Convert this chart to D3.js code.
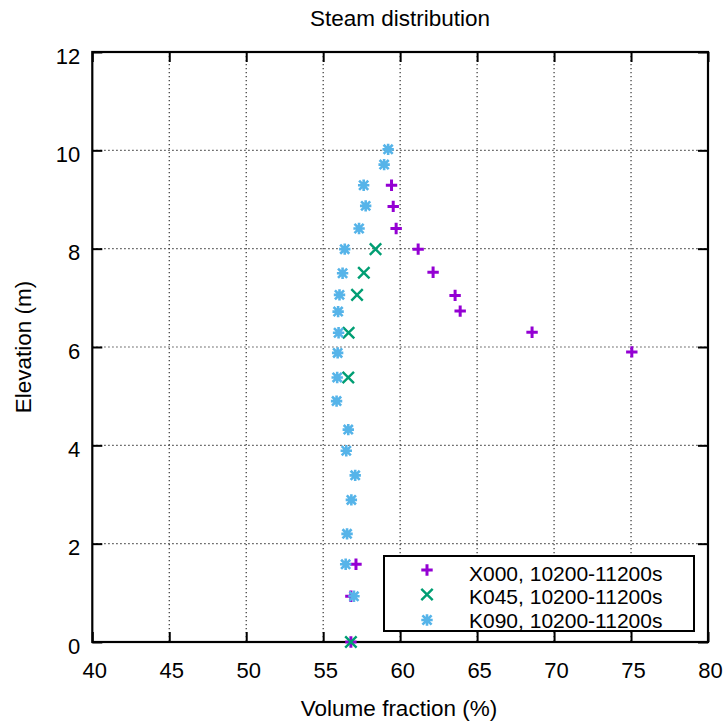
<!DOCTYPE html>
<html>
<head>
<meta charset="utf-8">
<script src="https://cdn.jsdelivr.net/npm/d3@7"></script>
<style>
  body { margin: 0; background: #fff; }
  text { font-family: "Liberation Sans", Arial, sans-serif; fill: #000; }
</style>
</head>
<body>
<svg id="chart" width="725" height="724"></svg>
<script>
// Steam volume fraction (%) against elevation (m) for three runs
const x000Fraction  = [75.05, 68.57, 63.90, 63.57, 62.14, 61.17, 59.74, 59.55, 59.44, 57.13, 56.80, 56.80];
const x000Elevation = [5.90, 6.30, 6.73, 7.05, 7.52, 7.99, 8.41, 8.86, 9.29, 1.58, 0.93, 0.00];

const k045Fraction  = [58.40, 57.64, 57.20, 56.65, 56.63, 56.80];
const k045Elevation = [7.99, 7.51, 7.06, 6.29, 5.38, 0.00];

const k090Fraction  = [59.22, 58.96, 57.63, 57.76, 57.33, 56.40, 56.26, 56.06, 55.97, 56.00, 55.94, 55.91, 55.87,
                       56.63, 56.50, 57.08, 56.83, 56.55, 56.46, 57.00];
const k090Elevation = [10.02, 9.71, 9.29, 8.87, 8.41, 7.99, 7.50, 7.06, 6.72, 6.29, 5.88, 5.38, 4.90,
                       4.32, 3.89, 3.39, 2.89, 2.20, 1.58, 0.93];

const seriesNames = ["X000, 10200-11200s", "K045, 10200-11200s", "K090, 10200-11200s"];
const xTickValues = [40, 45, 50, 55, 60, 65, 70, 75, 80];
const yTickValues = [0, 2, 4, 6, 8, 10, 12];

const titleText  = "Steam distribution";
const xLabelText = "Volume fraction (%)";
const yLabelText = "Elevation (m)";

const series = [
  { name: seriesNames[0], xs: x000Fraction, ys: x000Elevation, color: "#9400d3", shape: "plus" },
  { name: seriesNames[1], xs: k045Fraction, ys: k045Elevation, color: "#009e73", shape: "cross" },
  { name: seriesNames[2], xs: k090Fraction, ys: k090Elevation, color: "#56b4e9", shape: "star" }
];

const svg = d3.select("#chart");
const plotLeft = 92.3, plotRight = 708, plotTop = 52, plotBottom = 642;

const x = d3.scaleLinear().domain([40, 80]).range([plotLeft, plotRight]);
const y = d3.scaleLinear().domain([0, 12]).range([plotBottom, plotTop]);

// marker outlines
const r = 5.7;
const shapes = {
  plus:  `M${-r},0H${r}M0,${-r}V${r}`,
  cross: `M${-r},${-r}L${r},${r}M${-r},${r}L${r},${-r}`,
  star:  `M${-r},0H${r}M0,${-r}V${r}M${-r*0.8},${-r*0.8}L${r*0.8},${r*0.8}M${-r*0.8},${r*0.8}L${r*0.8},${-r*0.8}`
};
const strokeW = { plus: 3, cross: 2.4, star: 2.6 };

// title
svg.append("text")
  .attr("x", 400).attr("y", 26)
  .attr("text-anchor", "middle")
  .style("font-size", "22.5px")
  .text(titleText);

// dotted grid
const grid = svg.append("g")
  .attr("stroke", "#333").attr("stroke-width", 1.2)
  .attr("stroke-dasharray", "1.3,2.7");
grid.selectAll("line.gx")
  .data(xTickValues.filter(v => v > 40 && v < 80))
  .join("line")
  .attr("x1", d => x(d)).attr("x2", d => x(d))
  .attr("y1", plotTop).attr("y2", plotBottom);
grid.selectAll("line.gy")
  .data(yTickValues.filter(v => v > 0 && v < 12))
  .join("line")
  .attr("y1", d => y(d)).attr("y2", d => y(d))
  .attr("x1", plotLeft).attr("x2", plotRight);

// axes with inward ticks on all four sides
const tickLen = 10;
const axisStyle = g => {
  g.select(".domain").remove();
  g.selectAll(".tick line").attr("stroke", "#000").attr("stroke-width", 2);
  g.selectAll(".tick text").style("font-size", "22px").style("font-family", "Liberation Sans, Arial, sans-serif").attr("fill", "#000");
};

svg.append("g")
  .attr("transform", `translate(0,${plotBottom})`)
  .call(d3.axisBottom(x).tickValues(xTickValues).tickSizeInner(-tickLen).tickSizeOuter(0).tickPadding(20))
  .call(axisStyle)
  .call(g => g.selectAll(".tick text").attr("dx", 2));

svg.append("g")
  .attr("transform", `translate(0,${plotTop})`)
  .call(d3.axisTop(x).tickValues(xTickValues).tickSizeInner(-tickLen).tickSizeOuter(0).tickFormat(""))
  .call(axisStyle);

svg.append("g")
  .attr("transform", `translate(${plotLeft},0)`)
  .call(d3.axisLeft(y).tickValues(yTickValues).tickSizeInner(-tickLen).tickSizeOuter(0).tickPadding(12))
  .call(axisStyle)
  .call(g => g.selectAll(".tick text").attr("dy", "0.5em"));

svg.append("g")
  .attr("transform", `translate(${plotRight},0)`)
  .call(d3.axisRight(y).tickValues(yTickValues).tickSizeInner(-tickLen).tickSizeOuter(0).tickFormat(""))
  .call(axisStyle);

// plot frame
svg.append("rect")
  .attr("x", plotLeft).attr("y", plotTop)
  .attr("width", plotRight - plotLeft).attr("height", plotBottom - plotTop)
  .attr("fill", "none").attr("stroke", "#000").attr("stroke-width", 2.2);

// axis titles
svg.append("text")
  .attr("x", 399).attr("y", 716)
  .attr("text-anchor", "middle")
  .style("font-size", "22.5px")
  .text(xLabelText);

svg.append("text")
  .attr("transform", "translate(31,347) rotate(-90)")
  .attr("text-anchor", "middle")
  .style("font-size", "22.5px")
  .text(yLabelText);

// legend box
const lg = svg.append("g");
lg.append("rect")
  .attr("x", 384).attr("y", 556).attr("width", 310).attr("height", 75)
  .attr("fill", "#fff").attr("stroke", "#000").attr("stroke-width", 2);

// data points
series.forEach(s => {
  svg.append("g")
    .selectAll("path")
    .data(s.xs.map((v, i) => [v, s.ys[i]]))
    .join("path")
    .attr("transform", d => `translate(${x(d[0])},${y(d[1])})`)
    .attr("d", shapes[s.shape])
    .attr("fill", "none")
    .attr("stroke", s.color)
    .attr("stroke-width", strokeW[s.shape]);
});

// legend entries
const symY = [570, 594.5, 620];
const txtY = [580.5, 604, 627.5];
series.forEach((s, i) => {
  lg.append("path")
    .attr("transform", `translate(427,${symY[i]})`)
    .attr("d", shapes[s.shape])
    .attr("fill", "none").attr("stroke", s.color).attr("stroke-width", strokeW[s.shape]);
  lg.append("text")
    .attr("x", 469).attr("y", txtY[i])
    .style("font-size", "21px")
    .text(s.name);
});
</script>
</body>
</html>
